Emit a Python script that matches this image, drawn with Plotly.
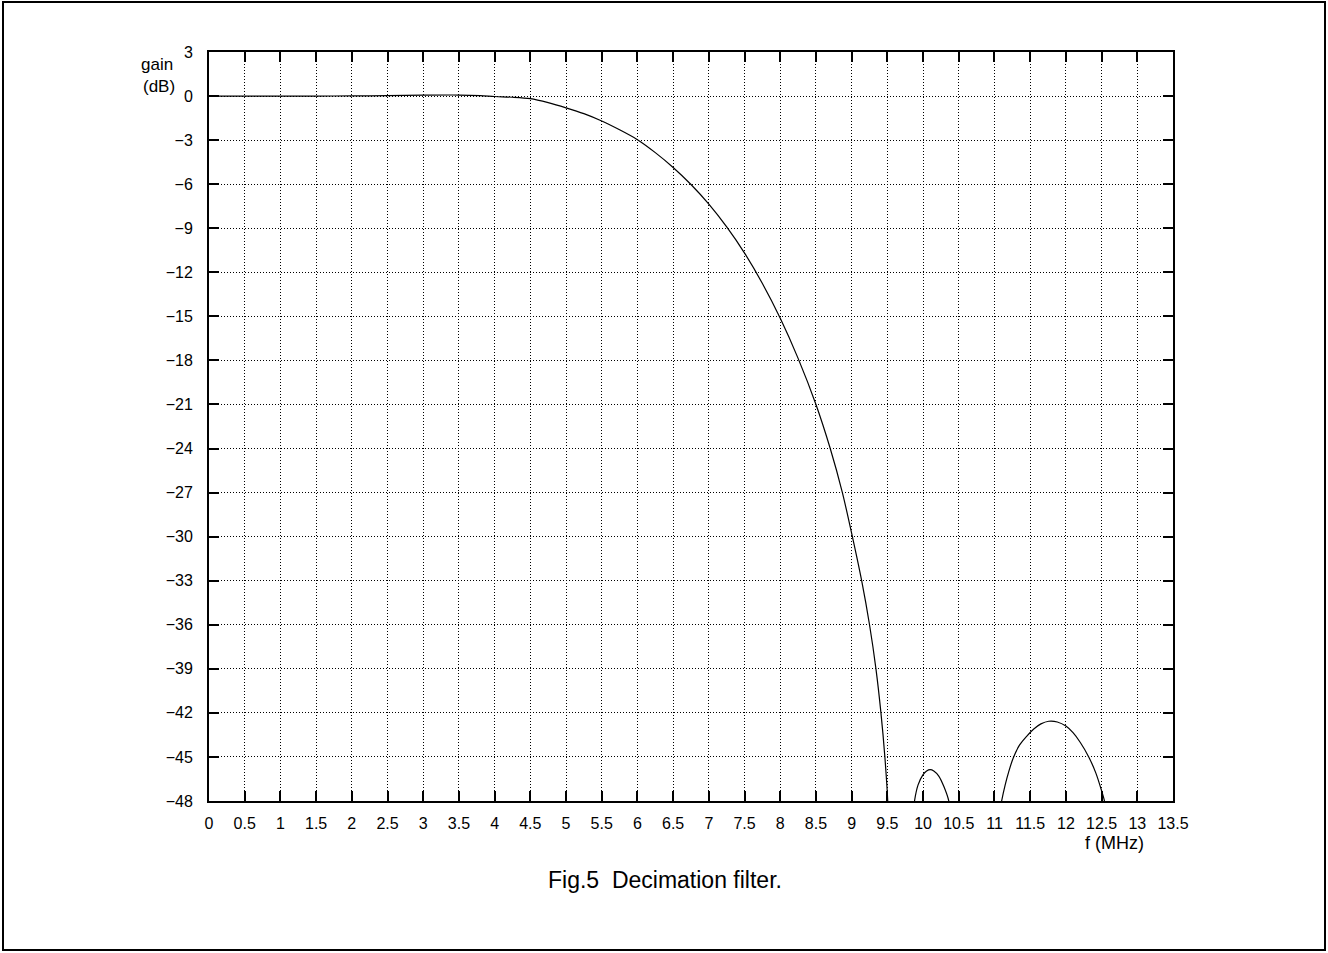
import plotly.graph_objects as go

# ---- data ----
main_f = [0, 0.5, 1, 1.5, 2, 2.5, 3, 3.5, 3.8, 4.0, 4.25, 4.5, 4.75, 5, 5.25, 5.5, 5.75, 6,
          6.25, 6.5, 6.75, 7, 7.25, 7.5, 7.75, 8, 8.25, 8.5, 8.7, 8.87, 9.01, 9.14, 9.25,
          9.34, 9.41, 9.465, 9.505, 9.525]
main_db = [0, 0, 0, 0, 0.01, 0.03, 0.06, 0.07, 0.03, -0.03, -0.08, -0.18, -0.45, -0.8, -1.2,
           -1.7, -2.3, -2.97, -3.85, -4.86, -6.02, -7.36, -8.91, -10.69, -12.76, -15.13,
           -17.86, -21, -24, -27, -30, -33, -36, -39, -42, -45, -48, -52]

lobe1_f = [9.86, 9.88, 9.93, 10.0, 10.05, 10.1, 10.15, 10.22, 10.29, 10.36, 10.38]
lobe1_db = [-49, -48, -46.9, -46.2, -45.95, -45.86, -45.95, -46.3, -47.0, -48, -49]

lobe2_f = [11.08, 11.10, 11.15, 11.20, 11.26, 11.35, 11.45, 11.55, 11.65, 11.76, 11.88, 12.0,
           12.1, 12.2, 12.32, 12.42, 12.5, 12.54, 12.56]
lobe2_db = [-48.6, -48, -46.9, -46.0, -45.1, -44.2, -43.6, -43.1, -42.75, -42.57, -42.62,
            -42.9, -43.35, -44.0, -45, -46.1, -47.3, -48, -48.7]

x_ticks = [0, 0.5, 1, 1.5, 2, 2.5, 3, 3.5, 4, 4.5, 5, 5.5, 6, 6.5, 7, 7.5, 8, 8.5, 9, 9.5,
           10, 10.5, 11, 11.5, 12, 12.5, 13, 13.5]
x_labels = ["0", "0.5", "1", "1.5", "2", "2.5", "3", "3.5", "4", "4.5", "5", "5.5", "6",
            "6.5", "7", "7.5", "8", "8.5", "9", "9.5", "10", "10.5", "11", "11.5", "12",
            "12.5", "13", "13.5"]
y_ticks = [3, 0, -3, -6, -9, -12, -15, -18, -21, -24, -27, -30, -33, -36, -39, -42, -45, -48]
y_labels = ["3", "0", "\u22123", "\u22126", "\u22129", "\u221212", "\u221215", "\u221218",
            "\u221221", "\u221224", "\u221227", "\u221230", "\u221233", "\u221236",
            "\u221239", "\u221242", "\u221245", "\u221248"]

title_text = "Fig.5  Decimation filter."
x_title = "f (MHz)"
y_title_1 = "gain"
y_title_2 = "(dB)"

# ---- layout geometry (pixels) ----
W, H = 1328, 953
L, R, T, B = 209, 155, 52, 152
PW, PH = W - L - R, H - T - B


def px(x):
    return (x - L) / PW


def py(y):
    return (H - B - y) / PH


FONT = "Liberation Sans, Arial, sans-serif"

fig = go.Figure()
line_style = dict(color="black", width=1.2)
for fx, fy in [(main_f, main_db), (lobe1_f, lobe1_db), (lobe2_f, lobe2_db)]:
    fig.add_trace(go.Scatter(x=fx, y=fy, mode="lines", line=line_style,
                             line_shape="spline", line_smoothing=0.8,
                             hoverinfo="skip", showlegend=False))

axis_common = dict(
    showline=True, linecolor="black", linewidth=2, mirror="ticks",
    ticks="inside", ticklen=10, tickwidth=1.5, tickcolor="black",
    showgrid=True, gridcolor="black", gridwidth=1, griddash="1px,2px",
    zeroline=False, tickfont=dict(family=FONT, size=16, color="black"),
)

fig.update_xaxes(range=[0, 13.5], tickvals=x_ticks, ticktext=x_labels,
                 ticklabelstandoff=7, **axis_common)
fig.update_yaxes(range=[-48, 3], tickvals=y_ticks, ticktext=y_labels,
                 ticklabelstandoff=11, **axis_common)

fig.update_layout(
    width=W, height=H,
    margin=dict(l=L, r=R, t=T, b=B, autoexpand=False),
    paper_bgcolor="white", plot_bgcolor="white",
    font=dict(family=FONT, color="black"),
    annotations=[
        dict(text=y_title_1, x=px(175), y=py(65), xref="paper", yref="paper",
             xanchor="right", yanchor="middle", showarrow=False, font=dict(size=17)),
        dict(text=y_title_2, x=px(177), y=py(86), xref="paper", yref="paper",
             xanchor="right", yanchor="middle", showarrow=False, font=dict(size=17)),
        dict(text=x_title, x=px(1114), y=py(843), xref="paper", yref="paper",
             xanchor="center", yanchor="middle", showarrow=False, font=dict(size=18)),
        dict(text=title_text, x=px(665), y=py(880), xref="paper", yref="paper",
             xanchor="center", yanchor="middle", showarrow=False, font=dict(size=23)),
    ],
    shapes=[
        dict(type="rect", xref="paper", yref="paper",
             x0=px(3), x1=px(1325), y0=py(950), y1=py(2),
             line=dict(color="black", width=2), fillcolor="rgba(0,0,0,0)", layer="below"),
    ],
)

fig.write_html("out.html", config={"displayModeBar": False},
               post_script="document.body.style.margin='0';document.body.style.overflow='hidden';")
